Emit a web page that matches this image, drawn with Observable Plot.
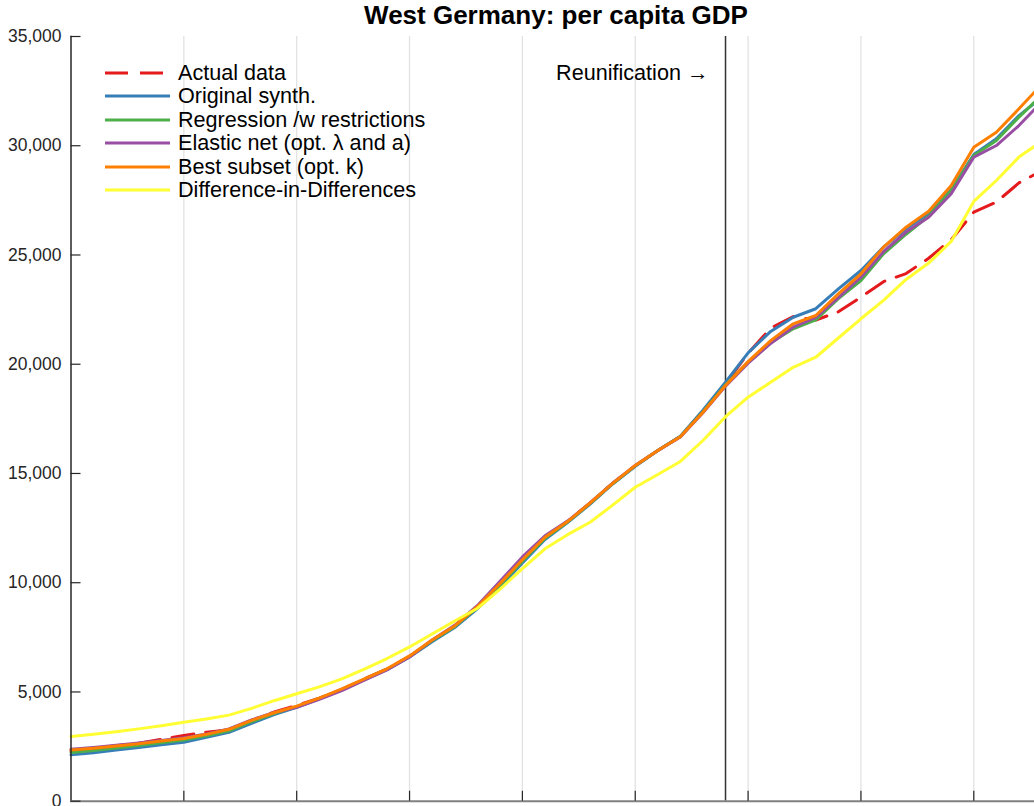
<!DOCTYPE html>
<html><head><meta charset="utf-8">
<script src="https://cdn.jsdelivr.net/npm/d3@7"></script>
<script src="https://cdn.jsdelivr.net/npm/@observablehq/plot@0.6"></script>
<style>
html,body{margin:0;padding:0;background:#fff;overflow:hidden;width:1034px;height:806px;}
#wrap{position:relative;width:1034px;height:806px;overflow:hidden;font-family:"Liberation Sans",Arial,Helvetica,sans-serif;}
#title{position:absolute;top:2px;left:556px;transform:translateX(-50%);white-space:nowrap;font-weight:bold;font-size:26px;line-height:26px;color:#000;}
#legend{position:absolute;left:105px;top:60.75px;}
.row{display:flex;align-items:center;height:23.5px;font-size:21.6px;color:#000;white-space:nowrap;}
.row svg{margin-right:8px;flex:none;}
</style></head>
<body><div id="wrap"><div id="chart"></div><div id="title"></div><div id="legend"></div></div>
<script>
const titleText = "West Germany: per capita GDP";
const reunificationYear = 1989;
const reunificationLabel = "Reunification \u2192";
const yTicks = [0, 5000, 10000, 15000, 20000, 25000, 30000, 35000];
const gridYears = [1965, 1970, 1975, 1980, 1985, 1990, 1995, 2000];

const years = [1960,1961,1962,1963,1964,1965,1966,1967,1968,1969,
  1970,1971,1972,1973,1974,1975,1976,1977,1978,1979,
  1980,1981,1982,1983,1984,1985,1986,1987,1988,1989,
  1990,1991,1992,1993,1994,1995,1996,1997,1998,1999,
  2000,2001,2002,2003];

const seriesNames = ["Actual data", "Original synth.", "Regression /w restrictions",
  "Elastic net (opt. \u03BB and a)", "Best subset (opt. k)", "Difference-in-Differences"];

const actualData = [2300,2420,2540,2650,2830,3010,3160,3270,3700,4080,
  4380,4720,5110,5600,6050,6620,7350,8000,8900,9950,
  11000,12050,12800,13650,14550,15350,16050,16700,17850,19100,
  20500,21650,22180,22020,22400,23070,23780,24150,24850,25700,
  26960,27420,28300,28850];

const originalSynth = [2120,2220,2340,2460,2580,2700,2930,3150,3560,3960,
  4300,4680,5100,5560,6020,6600,7300,7950,8800,9800,
  10900,11980,12750,13600,14520,15330,16050,16700,17900,19180,
  20520,21500,22150,22540,23450,24290,25360,26200,26900,28000,
  29600,30320,31380,32200];

const regression = [2230,2320,2440,2550,2670,2800,2990,3220,3640,4010,
  4330,4700,5120,5580,6040,6620,7340,7990,8860,9880,
  10980,12030,12780,13620,14530,15350,16050,16690,17830,19060,
  20100,20980,21620,22030,23000,23830,25050,25950,26780,27950,
  29550,30240,31310,32300];

const elasticNet = [2380,2460,2560,2660,2780,2900,3080,3310,3720,4060,
  4300,4660,5060,5540,6010,6600,7380,8050,8950,10050,
  11180,12150,12820,13650,14560,15370,16050,16670,17780,19000,
  20050,20950,21700,22150,23050,23985,25150,26050,26730,27800,
  29475,30010,30925,32000];

const bestSubset = [2340,2420,2530,2630,2760,2870,3060,3290,3700,4050,
  4350,4720,5140,5600,6060,6650,7380,8020,8900,9950,
  11050,12080,12800,13650,14550,15370,16050,16680,17800,19030,
  20120,21080,21850,22230,23220,24140,25360,26270,27000,28180,
  29930,30620,31690,32800];

const diffInDiff = [2960,3060,3180,3310,3450,3610,3760,3940,4250,4600,
  4920,5230,5600,6050,6530,7060,7650,8250,8820,9700,
  10640,11550,12200,12770,13550,14370,14950,15550,16510,17600,
  18490,19180,19860,20320,21200,22080,22920,23880,24630,25620,
  27450,28410,29480,30200];

const seriesValues = [actualData, originalSynth, regression, elasticNet, bestSubset, diffInDiff];
const seriesColors = ["#E41A1C", "#377EB8", "#4DAF4A", "#984EA3", "#FF7F00", "#FFFF33"];
const seriesDash = ["22,12", null, null, null, null, null];

const font = '"Liberation Sans", Arial, Helvetica, sans-serif';

const lineMarks = seriesValues.map((vals, k) =>
  Plot.line(years.map((yr, i) => ({year: yr, value: vals[i]})), {
    x: "year", y: "value", stroke: seriesColors[k], strokeWidth: 3,
    strokeDasharray: seriesDash[k] || undefined, strokeLinejoin: "round"
  })
);

const chart = Plot.plot({
  width: 1034, height: 840,
  marginLeft: 70.5, marginRight: 0, marginTop: 36, marginBottom: 39.3,
  style: {fontFamily: font, fontSize: "17.5px", color: "#262626", background: "white", overflow: "hidden"},
  x: {domain: [1960, 2003], range: [70.5, 1041]},
  y: {domain: [0, 35000]},
  marks: [
    Plot.gridX(gridYears, {stroke: "#e2e2e2", strokeOpacity: 1, strokeWidth: 1.3}),
    Plot.ruleX([reunificationYear], {stroke: "#333333", strokeWidth: 1.5}),
    ...lineMarks,
    Plot.text([reunificationYear], {x: d => d, text: () => reunificationLabel, frameAnchor: "top",
      lineAnchor: "middle", dy: 36.5, dx: -17, textAnchor: "end", fontSize: 21.6, fill: "#000", fontFamily: font}),
    Plot.frame({anchor: "left", stroke: "#262626", strokeWidth: 1.5}),
    Plot.frame({anchor: "bottom", stroke: "#808080", strokeWidth: 2}),
    Plot.axisY({ticks: yTicks, tickFormat: d3.format(","), tickSize: -10, tickPadding: 19.5,
      label: null, stroke: "#262626", fill: "#262626", strokeWidth: 1.2}),
    Plot.axisX({ticks: gridYears, tickSize: -10, tickFormat: () => "", label: null,
      stroke: "#262626", strokeWidth: 1.2})
  ]
});
document.getElementById("chart").appendChild(chart);
document.getElementById("title").textContent = titleText;

const legend = document.getElementById("legend");
seriesNames.forEach((name, k) => {
  const row = document.createElement("div");
  row.className = "row";
  const dash = seriesDash[k] ? ` stroke-dasharray="23,12"` : "";
  row.innerHTML = `<svg width="65" height="6"><line x1="0" y1="3" x2="65" y2="3" stroke="${seriesColors[k]}" stroke-width="3"${dash}/></svg>`;
  const span = document.createElement("span");
  span.textContent = name;
  row.appendChild(span);
  legend.appendChild(row);
});
</script></body></html>
